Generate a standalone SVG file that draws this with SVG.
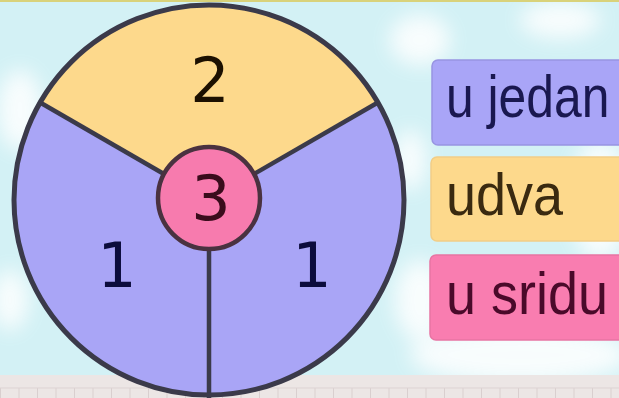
<svg xmlns="http://www.w3.org/2000/svg" width="619" height="398" viewBox="0 0 619 398">
<defs>
<filter id="blur" x="-50%" y="-50%" width="200%" height="200%"><feGaussianBlur stdDeviation="10"/></filter>
<pattern id="grid" x="0" y="0" width="18.5" height="30" patternUnits="userSpaceOnUse">
<line x1="0.5" y1="0" x2="0.5" y2="30" stroke="#d9cfcf" stroke-width="1"/>
</pattern>
</defs>
<style>
.line{stroke:#3b3a4a;stroke-width:4.5;fill:none;stroke-linecap:butt}
.num{font-family:"DejaVu Sans",sans-serif;font-size:62px;text-anchor:middle}
.lbl{font-family:"Liberation Sans",Arial,sans-serif;font-size:60px}
.box{stroke-width:1.5}
</style>
<g id="background">
<rect width="619" height="398" fill="#d3f1f5"/>
<g filter="url(#blur)" fill="#ffffff" opacity="0.85">
<ellipse cx="20" cy="110" rx="22" ry="40"/>
<ellipse cx="10" cy="300" rx="18" ry="30"/>
<ellipse cx="520" cy="355" rx="110" ry="28"/>
<ellipse cx="600" cy="200" rx="30" ry="60"/>
<ellipse cx="420" cy="40" rx="30" ry="25"/>
<ellipse cx="560" cy="20" rx="40" ry="18"/>
<ellipse cx="420" cy="300" rx="25" ry="40"/>
<ellipse cx="410" cy="160" rx="16" ry="30"/>
</g>
<rect x="0" y="0" width="619" height="2" fill="#d9d27a"/>
<rect x="0" y="375" width="619" height="23" fill="#ece6e5"/>
<rect x="0" y="388" width="619" height="10" fill="url(#grid)"/>
<line x1="0" y1="388" x2="619" y2="388" stroke="#ddd3d3" stroke-width="1"/>
</g>
<g id="wheel">
<g id="sector-1-left-right">
<circle cx="209" cy="200" r="195" fill="#a9a5f6"/>
</g>
<g id="sector-2">
<path d="M209,200 L40.1,102.5 A195,195 0 0 1 377.9,102.5 Z" fill="#fdd98c"/>
</g>
<g id="dividers">
<line class="line" x1="209" y1="200" x2="40.1" y2="102.5"/>
<line class="line" x1="209" y1="200" x2="377.9" y2="102.5"/>
<line class="line" x1="209" y1="200" x2="209" y2="398"/>
</g>
<g id="center-3">
<circle cx="209" cy="198" r="51" fill="#f77bae" stroke="#4a3240" stroke-width="4.5"/>
<text class="num" x="211" y="220" fill="#3a0c1c">3</text>
</g>
<circle cx="209" cy="200" r="195" fill="none" stroke="#3b3a4a" stroke-width="5"/>
<text class="num" x="210" y="102" fill="#1c1000">2</text>
<text class="num" x="117" y="287" fill="#0c0c3c">1</text>
<text class="num" x="312" y="287" fill="#0c0c3c">1</text>
</g>
<g id="legend-u-jedan">
<rect class="box" x="432" y="60" width="200" height="85" rx="6" fill="#a9a5f7" stroke="#9894e2"/>
<text class="lbl" transform="translate(446,117) scale(0.83,1)" fill="#1a1850">u jedan</text>
</g>
<g id="legend-udva">
<rect class="box" x="431" y="157" width="200" height="84" rx="6" fill="#fdd98c" stroke="#f2cd86"/>
<text class="lbl" transform="translate(446,215) scale(0.9,1)" fill="#3a2a10">udva</text>
</g>
<g id="legend-u-sridu">
<rect class="box" x="430" y="255" width="200" height="85" rx="6" fill="#f97db0" stroke="#e874a3"/>
<text class="lbl" transform="translate(446,314) scale(0.9,1)" fill="#4a0a2a">u sridu</text>
</g>
</svg>
